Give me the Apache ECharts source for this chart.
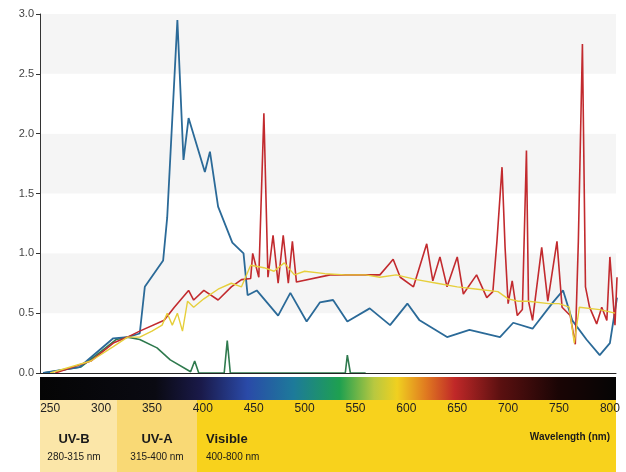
<!DOCTYPE html>
<html><head><meta charset="utf-8">
<script src="https://cdn.jsdelivr.net/npm/echarts@6/dist/echarts.min.js"></script>
<style>html,body{margin:0;padding:0;background:#fff}#c{width:626px;height:472px}</style>
</head><body><div id="c"></div>
<script>
const xTicks=[250,300,350,400,450,500,550,600,650,700,750,800];
const blue=[[243,0],[279,0.05],[312,0.29],[326,0.3],[338,0.33],[343,0.72],[361,0.94],[365,1.3],[375,2.95],[381,1.78],[386,2.13],[402,1.68],[407,1.85],[415,1.39],[429,1.09],[440,1.0],[444,0.65],[453,0.69],[474,0.48],[486,0.67],[502,0.43],[515,0.59],[528,0.61],[542,0.43],[564,0.54],[584,0.40],[601,0.58],[613,0.44],[640,0.30],[662,0.36],[692,0.30],[705,0.42],[724,0.37],[744,0.59],[754,0.69],[763,0.44],[777,0.28],[790,0.15],[800,0.25],[807,0.63]];
const green=[[243,0],[280,0.05],[300,0.18],[315,0.28],[326,0.3],[338,0.28],[355,0.21],[368,0.11],[388,0.01],[392,0.1],[396,0],[421,0],[424,0.27],[427,0],[540,0],[542,0.15],[545,0],[560,0]];
const red=[[255,0],[290,0.1],[312,0.25],[326,0.3],[338,0.35],[362,0.44],[372,0.55],[386,0.69],[391,0.61],[401,0.69],[415,0.61],[428,0.72],[438,0.78],[447,0.79],[449,1.0],[455,0.8],[460,2.17],[464,0.8],[469,1.15],[474,0.75],[479,1.15],[484,0.75],[488,1.1],[492,0.76],[525,0.82],[555,0.82],[574,0.82],[584,0.92],[587,0.95],[594,0.8],[607,0.72],[620,1.08],[626,0.77],[633,0.97],[640,0.72],[650,0.97],[656,0.66],[669,0.82],[679,0.63],[685,0.68],[689,1.1],[694,1.72],[697,1.05],[700,0.58],[704,0.77],[709,0.48],[714,0.53],[718,1.86],[720,0.6],[724,0.44],[733,1.05],[739,0.6],[748,1.1],[753,0.55],[761,0.48],[766,0.24],[769,1.1],[773,2.75],[776,0.72],[780,0.55],[787,0.41],[792,0.55],[797,0.44],[800,0.97],[805,0.4],[807,0.8]];
const yellow=[[250,0],[290,0.1],[312,0.22],[326,0.3],[338,0.3],[350,0.35],[360,0.4],[365,0.5],[370,0.4],[375,0.5],[380,0.35],[385,0.6],[391,0.55],[401,0.62],[415,0.7],[428,0.75],[438,0.72],[447,0.9],[460,0.88],[470,0.85],[480,0.92],[490,0.82],[500,0.85],[520,0.83],[540,0.82],[560,0.82],[574,0.8],[590,0.82],[610,0.78],[630,0.75],[650,0.72],[670,0.7],[690,0.68],[700,0.62],[710,0.6],[720,0.6],[740,0.58],[750,0.58],[760,0.55],[765,0.25],[770,0.55],[790,0.53],[805,0.5]];
const regions=[["UV-B","280-315 nm"],["UV-A","315-400 nm"],["Visible","400-800 nm"]];

const ch=echarts.init(document.getElementById('c'));
const ln=(d,c,w)=>({type:'line',data:d,showSymbol:false,smooth:false,lineStyle:{color:c,width:w||1.6},z:3});
const F='"Liberation Sans Narrow","Liberation Sans",sans-serif';
ch.setOption({
 animation:false,
 grid:{left:40,right:10,top:14,bottom:99},
 xAxis:{type:'value',min:240,max:806,z:20,
  axisLine:{show:true,lineStyle:{color:'#222'}},axisTick:{show:false},splitLine:{show:false},
  axisLabel:{customValues:xTicks,margin:30,color:'#222',fontSize:12,fontFamily:F}},
 yAxis:{type:'value',min:0,max:3,interval:0.5,
  axisLine:{show:true,lineStyle:{color:'#333'}},axisTick:{show:true,length:4,lineStyle:{color:'#333'}},
  splitLine:{show:false},splitArea:{show:true,areaStyle:{color:['#ffffff','#f5f5f5']}},
  axisLabel:{color:'#444',fontSize:11,formatter:v=>v.toFixed(1),margin:6}},
 graphic:[
  {type:'rect',shape:{x:40,y:377,width:576,height:23},z:-1,style:{fill:new echarts.graphic.LinearGradient(0,0,1,0,[
   {offset:0,color:'#050505'},{offset:0.2,color:'#0a0a12'},{offset:0.28,color:'#1a1a4a'},{offset:0.36,color:'#2a4aa8'},
   {offset:0.44,color:'#1d7a9a'},{offset:0.52,color:'#1ea050'},{offset:0.58,color:'#b8c840'},{offset:0.62,color:'#f0d020'},
   {offset:0.67,color:'#e07a20'},{offset:0.72,color:'#c02828'},{offset:0.8,color:'#5a1010'},{offset:0.9,color:'#1a0505'},{offset:1,color:'#050505'}])}},
  {type:'rect',shape:{x:40,y:400,width:77,height:72},z:-1,style:{fill:'#fbe6a8'}},
  {type:'rect',shape:{x:117,y:400,width:80,height:72},z:-1,style:{fill:'#f9d975'}},
  {type:'rect',shape:{x:197,y:400,width:419,height:72},z:-1,style:{fill:'#f8d21c'}},
  {type:'text',x:74,y:433,z:2,style:{text:regions[0][0],fill:'#1a1a1a',font:'bold 13px '+F,align:'center'}},
  {type:'text',x:74,y:452,z:2,style:{text:regions[0][1],fill:'#1a1a1a',font:'10px '+F,align:'center'}},
  {type:'text',x:157,y:433,z:2,style:{text:regions[1][0],fill:'#1a1a1a',font:'bold 13px '+F,align:'center'}},
  {type:'text',x:157,y:452,z:2,style:{text:regions[1][1],fill:'#1a1a1a',font:'10px '+F,align:'center'}},
  {type:'text',x:206,y:433,z:2,style:{text:regions[2][0],fill:'#1a1a1a',font:'bold 13px '+F}},
  {type:'text',x:206,y:452,z:2,style:{text:regions[2][1],fill:'#1a1a1a',font:'10px '+F}},
  {type:'text',x:610,y:432,z:2,style:{text:'Wavelength (nm)',fill:'#1a1a1a',font:'bold 10px '+F,align:'right'}}
 ],
 series:[ln(green,'#2f7a4e'),ln(blue,'#2b6a98',1.8),ln(red,'#c22a2e'),ln(yellow,'#e6cf3c',1.4)]
});
</script></body></html>
